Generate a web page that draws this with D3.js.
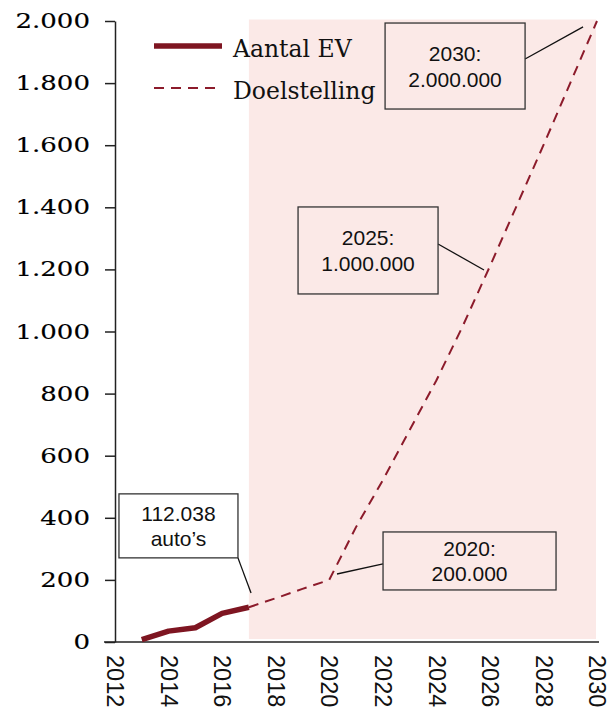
<!DOCTYPE html>
<html>
<head>
<meta charset="utf-8">
<script src="https://cdn.jsdelivr.net/npm/d3@7"></script>
<style>
  body { margin: 0; background: #fff; }
  svg { display: block; }
</style>
</head>
<body>
<svg id="ev-chart" width="607" height="710"></svg>
<script>

// values (thousands of cars)
var evYears = [2013, 2014, 2015, 2016, 2017],
    evValues = [8, 35, 46, 92, 112],
    targetYears = [2017, 2018, 2019, 2020, 2021, 2022, 2023, 2024, 2025, 2026, 2027, 2028, 2029, 2030],
    targetValues = [112, 141, 171, 200, 370, 521, 682, 842, 1020, 1210, 1405, 1600, 1800, 2000],
    yTicks = [0, 200, 400, 600, 800, 1000, 1200, 1400, 1600, 1800, 2000],
    xTicks = [2012, 2014, 2016, 2018, 2020, 2022, 2024, 2026, 2028, 2030],
    seriesNames = ['Aantal EV', 'Doelstelling'],
    calloutTexts = [['112.038', 'auto\u2019s'], ['2020:', '200.000'], ['2025:', '1.000.000'], ['2030:', '2.000.000']];

var drawChart = (function(d3) {

  var svg = d3.select('#ev-chart'),
      x = d3.scaleLinear().domain([2012, 2030]).range([115, 597]),
      y = d3.scaleLinear().domain([0, 2000]).range([642, 21]),
      nl = d3.formatLocale({ decimal: ',', thousands: '.', grouping: [3], currency: ['\u20ac', ''] }),
      serif = 'DejaVu Serif, Georgia, serif',
      sans = 'Liberation Sans, Arial, sans-serif',
      solidColor = '#7e1521',
      dashColor = '#8c1b2b',
      line = d3.line().x(function(d) { return x(d[0]); }).y(function(d) { return y(d[1]); })
      ;

  // box centre + leader end in data units, box size / leader start in px
  var callouts = [
    { text: calloutTexts[0], at: [2014.37, 374], w: 119, h: 64, from: [59.5, 32], to: [2017.08, 158] },
    { text: calloutTexts[1], at: [2025.24, 261], w: 173, h: 58, from: [-86.5, 3], to: [2020.29, 219] },
    { text: calloutTexts[2], at: [2021.45, 1261], w: 140, h: 87, from: [70, -6.5], to: [2025.78, 1198] },
    { text: calloutTexts[3], at: [2024.70, 1855], w: 140, h: 86, from: [70, -7], to: [2029.48, 1981] }
  ];

  // target period background
  svg.append('rect')
      .attr('x', x(2017))
      .attr('y', y(2000) - 1.5)
      .attr('width', x(2030) - x(2017) - 1)
      .attr('height', y(0) - y(2000) - 1.5)
      .attr('fill', '#fbe9e7');

  // y axis
  var yAxis = svg.append('g')
      .attr('transform', 'translate(' + x(2012) + ',0)')
      .call(d3.axisLeft(y).tickValues(yTicks).tickFormat(nl.format(',d'))
              .tickSize(10).tickSizeOuter(0).tickPadding(15));
  yAxis.select('.domain').attr('stroke', '#222').attr('stroke-width', 1.5);
  yAxis.selectAll('.tick line').attr('stroke', '#222').attr('stroke-width', 1.5);
  yAxis.selectAll('.tick text')
      .attr('font-family', serif)
      .attr('font-size', 20.5)
      .attr('fill', '#000')
      .attr('stroke', '#000')
      .attr('stroke-width', 0.15)
      .each(function() {
        var w = this.getComputedTextLength();
        d3.select(this).attr('textLength', w * 1.27).attr('lengthAdjust', 'spacingAndGlyphs');
      });

  // x axis
  var xAxis = svg.append('g')
      .attr('transform', 'translate(0,' + y(0) + ')')
      .call(d3.axisBottom(x).tickValues(xTicks).tickFormat(d3.format('d')).tickSize(0));
  xAxis.select('.domain').remove();
  xAxis.append('line')
      .attr('x1', x(2012) - 11).attr('x2', x(2030) + 2)
      .attr('stroke', '#222').attr('stroke-width', 1.5);
  xAxis.selectAll('.tick text')
      .attr('font-family', sans)
      .attr('font-size', 23.5)
      .attr('fill', '#111')
      .attr('text-anchor', 'start')
      .attr('y', 0)
      .attr('dy', '0.35em')
      .attr('transform', 'translate(0,13) rotate(90)');

  // series
  svg.append('path')
      .datum(d3.zip(targetYears, targetValues))
      .attr('d', line)
      .attr('fill', 'none')
      .attr('stroke', dashColor)
      .attr('stroke-width', 2)
      .attr('stroke-dasharray', '10,7');

  svg.append('path')
      .datum(d3.zip(evYears, evValues))
      .attr('d', line)
      .attr('fill', 'none')
      .attr('stroke', solidColor)
      .attr('stroke-width', 5.5)
      .attr('stroke-linejoin', 'round');

  // callouts
  var c = svg.selectAll('.callout')
      .data(callouts)
    .enter().append('g')
      .classed('callout', true)
      .attr('transform', function(d) { return 'translate(' + x(d.at[0]) + ',' + y(d.at[1]) + ')'; });

  c.append('line')
      .attr('x1', function(d) { return d.from[0]; })
      .attr('y1', function(d) { return d.from[1]; })
      .attr('x2', function(d) { return x(d.to[0]) - x(d.at[0]); })
      .attr('y2', function(d) { return y(d.to[1]) - y(d.at[1]); })
      .attr('stroke', '#111')
      .attr('stroke-width', 1.3);

  c.append('rect')
      .attr('x', function(d) { return -d.w / 2; })
      .attr('y', function(d) { return -d.h / 2; })
      .attr('width', function(d) { return d.w; })
      .attr('height', function(d) { return d.h; })
      .attr('fill', 'none')
      .attr('stroke', '#333')
      .attr('stroke-width', 1.3);

  c.selectAll('text')
      .data(function(d) { return d.text; })
    .enter().append('text')
      .attr('y', function(d, i) { return -5 + i * 25.5; })
      .attr('text-anchor', 'middle')
      .attr('font-family', sans)
      .attr('font-size', 21)
      .attr('fill', '#111')
      .text(function(d) { return d; });

  // legend
  var legend = svg.append('g').attr('transform', 'translate(154,46)');
  var item = legend.selectAll('g')
      .data(seriesNames)
    .enter().append('g')
      .attr('transform', function(d, i) { return 'translate(0,' + i * 42 + ')'; });

  item.append('line')
      .attr('x2', 68)
      .attr('stroke', function(d, i) { return i ? dashColor : solidColor; })
      .attr('stroke-width', function(d, i) { return i ? 2 : 5.5; })
      .attr('stroke-dasharray', function(d, i) { return i ? '10,7' : null; });

  item.append('text')
      .attr('x', 79)
      .attr('y', 11)
      .attr('font-family', serif)
      .attr('font-size', 23.5)
      .attr('fill', '#111')
      .text(function(d) { return d; });

})(d3);

</script>
</body>
</html>
